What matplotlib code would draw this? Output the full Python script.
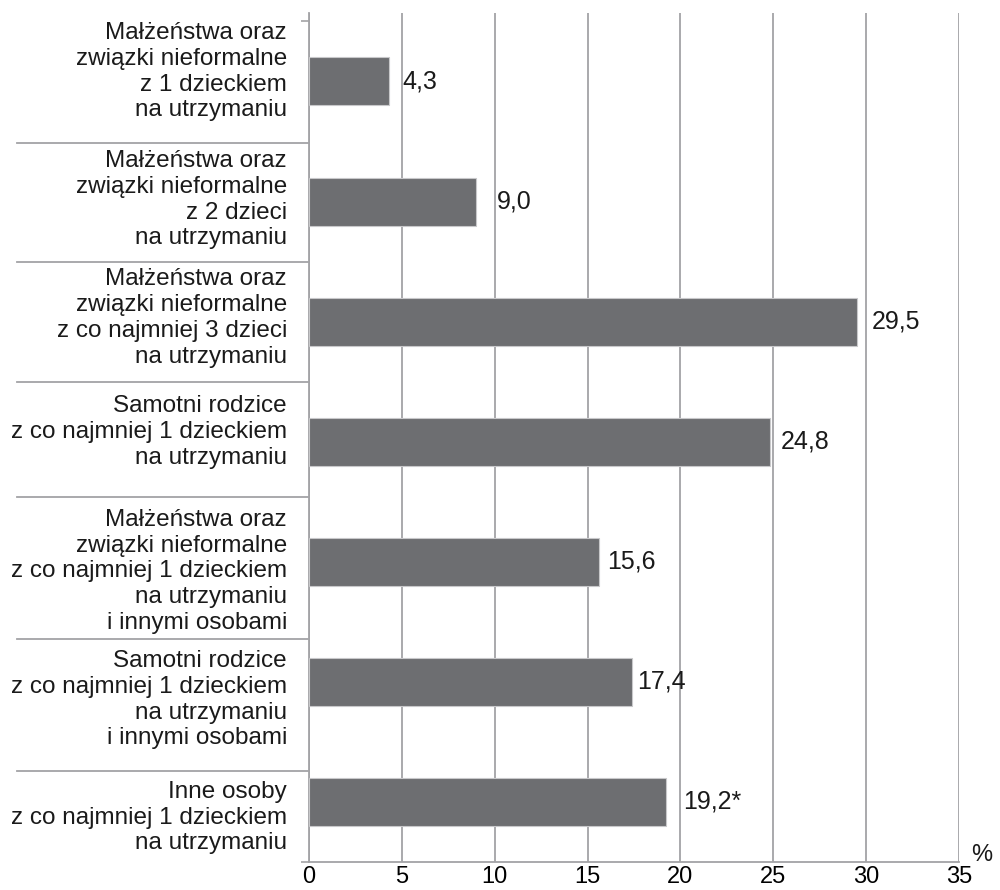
import matplotlib
matplotlib.use("Agg")
import matplotlib.pyplot as plt
import matplotlib.transforms as mtransforms

plt.rcParams.update({
    "font.family": ["Liberation Sans", "DejaVu Sans"],
    "font.size": 17,
})

categories = [
    "Małżeństwa oraz\nzwiązki nieformalne\nz 1 dzieckiem\nna utrzymaniu",
    "Małżeństwa oraz\nzwiązki nieformalne\nz 2 dzieci\nna utrzymaniu",
    "Małżeństwa oraz\nzwiązki nieformalne\nz co najmniej 3 dzieci\nna utrzymaniu",
    "Samotni rodzice\nz co najmniej 1 dzieckiem\nna utrzymaniu",
    "Małżeństwa oraz\nzwiązki nieformalne\nz co najmniej 1 dzieckiem\nna utrzymaniu\ni innymi osobami",
    "Samotni rodzice\nz co najmniej 1 dzieckiem\nna utrzymaniu\ni innymi osobami",
    "Inne osoby\nz co najmniej 1 dzieckiem\nna utrzymaniu",
]
values = [4.3, 9.0, 29.5, 24.8, 15.6, 17.4, 19.2]
value_labels = ["4,3", "9,0", "29,5", "24,8", "15,6", "17,4", "19,2*"]
x_ticks = [0, 5, 10, 15, 20, 25, 30, 35]

separators = [0.51, 1.50, 2.50, 3.46, 4.64, 5.74]
label_y = [-0.08, 0.985, 1.97, 2.92, 4.08, 5.15, 6.13]
label_dx = [14, 21, 15, 11, 8, 5, 18]

BAR = "#6d6e71"
GRID = "#a3a3a6"

fig = plt.figure(figsize=(10, 8.9), dpi=100)
ax = fig.add_axes([0.309, 28 / 890, 0.650, 849 / 890])

ypos = list(range(len(values)))
ax.barh(ypos, values, height=0.4, color=BAR, edgecolor="#c8c8ca", linewidth=0.8, zorder=3)

ax.set_xlim(0, 35)
ax.set_ylim(6.5, -0.57)
ax.set_xticks(x_ticks)
ax.set_xticklabels([str(t) for t in x_ticks])
ax.tick_params(axis="x", length=0, pad=3, labelsize=17)
ax.set_yticks([-0.5, 6.5])
ax.set_yticklabels(["", ""])
ax.tick_params(axis="y", length=6, color=GRID, width=1.2)
ax.grid(axis="x", color=GRID, linewidth=1.3, zorder=0)
for s in ["top", "right"]:
    ax.spines[s].set_visible(False)
for s in ["left", "bottom"]:
    ax.spines[s].set_color(GRID)
    ax.spines[s].set_linewidth(1.3)

# value labels
for y, v, txt, dx in zip(ypos, values, value_labels, label_dx):
    ax.annotate(txt, (v, y), xytext=(dx, 0), textcoords="offset pixels",
                ha="left", va="center", fontsize=18, color="#1a1a1a")

# category labels and separators
trans = mtransforms.blended_transform_factory(fig.transFigure, ax.transData)
for y, lab in zip(label_y, categories):
    ax.text(0.287, y, lab, transform=trans, ha="right", va="center",
            fontsize=17.5, color="#1a1a1a", linespacing=1.22, clip_on=False)
for y in separators:
    ax.plot([0.017, 0.308], [y, y], transform=trans, color=GRID,
            linewidth=1.3, clip_on=False)

fig.text(0.982, 1 - 855 / 890, "%", ha="center", va="center", fontsize=17, color="#1a1a1a")

fig.savefig("out.png", dpi=100)
